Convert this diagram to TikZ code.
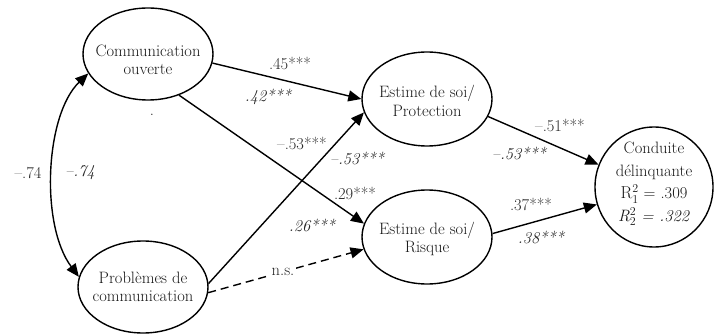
\documentclass[tikz,border=0pt]{standalone}
\usetikzlibrary{shapes.geometric,arrows.meta}
\begin{document}
\begin{tikzpicture}[x=1pt,y=-1pt,
  ell/.style={draw,ellipse,line width=1.4pt,inner sep=0pt},
  txt/.style={align=center,font=\fontsize{16.5}{18.5}\selectfont,text=black!90,inner sep=0pt},
  lab/.style={font=\fontsize{16.5}{18}\selectfont,text=black!85,inner sep=0pt},
  ilab/.style={lab,font=\fontsize{16.5}{18}\selectfont\itshape},
  arr/.style={line width=1.4pt,-{Triangle[length=13pt,width=11pt]}},
]
\useasboundingbox (0,0) rectangle (715,334);
% ellipses
\node[ell,minimum width=130pt,minimum height=92pt] (co) at (148,54) {};
\node[ell,minimum width=130pt,minimum height=92pt] (pc) at (143,287) {};
\node[ell,minimum width=130pt,minimum height=94pt] (ep) at (427,99) {};
\node[ell,minimum width=130pt,minimum height=94pt] (er) at (427,237) {};
\node[ell,minimum width=118pt,minimum height=120pt] (cd) at (654,187) {};
% texts
\node[txt] (tco) at (148,60) {Communication\\ouverte};
\node[txt] (tpc) at (143,287) {Problèmes de\\communication};
\node[txt] (tep) at (427,101) {Estime de soi/\\Protection};
\node[txt] (ter) at (427,239) {Estime de soi/\\Risque};
\node[txt,font=\fontsize{16.5}{22.5}\selectfont] (tcd) at (654,184) {Conduite\\délinquante\\$\mathrm{R}_1^2$ = .309\\\textit{R}$_2^2$ \textit{= .322}};
% connectors
\draw[arr] (co.-8) -- (ep.180);
\draw[arr] (pc.3) -- (ep.192);
\draw[arr] (co.-53) -- (er.168);
\draw[arr,dash pattern=on 8pt off 5pt] (pc.-5) -- (er.191);
\draw[arr] (ep.-16) -- (cd.158);
\draw[arr] (er.3) -- (cd.197);
\draw[line width=1.4pt,{Triangle[length=13pt,width=11pt]}-{Triangle[length=13pt,width=11pt]}] (co.198) .. controls (45,115) and (40,225) .. (pc.171);
% labels
\node[lab] (l1) at (290,63) {.45***};
\node[ilab] (l2) at (268,97) {.42***};
\node[lab] (l3) at (152,115) {.};
\node[lab] (l4) at (302,143) {\textendash.53***};
\node[ilab] (l5) at (357,158) {\textendash.53***};
\node[lab] (l6) at (355,193) {.29***};
\node[ilab] (l7) at (312,225) {.26***};
\node[lab,fill=white,inner xsep=2pt,inner ysep=1pt] (l8) at (283,272) {n.s.};
\node[lab] (l9) at (560,125) {\textendash.51***};
\node[ilab] (l10) at (519,153) {\textendash.53***};
\node[lab] (l11) at (531,204) {.37***};
\node[ilab] (l12) at (541,237) {.38***};
\node[lab] (l13) at (28,173) {\textendash.74};
\node[ilab] (l14) at (80,173) {\textendash.74};
\end{tikzpicture}
\end{document}
